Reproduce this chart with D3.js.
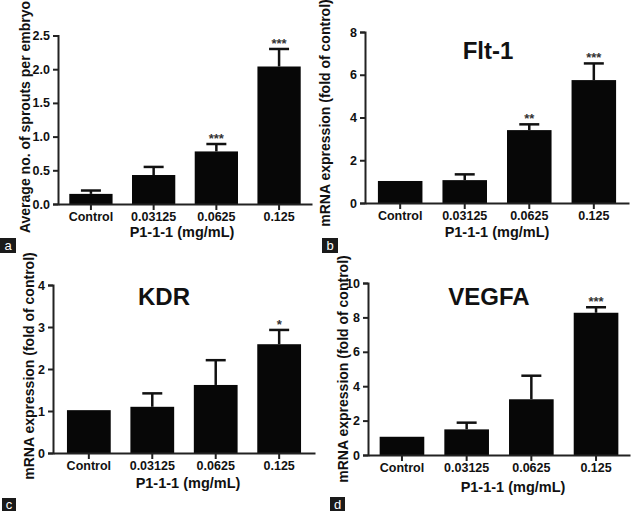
<!DOCTYPE html>
<html>
<head>
<meta charset="utf-8">
<script src="https://cdn.jsdelivr.net/npm/d3@7"></script>
<style>
  html, body { margin: 0; padding: 0; background: #fff; }
  svg { display: block; }
  text { font-family: "Liberation Sans", Arial, Helvetica, sans-serif; font-weight: bold; fill: #111; }
</style>
</head>
<body>
<svg id="chart" width="634" height="511"></svg>
<script>
// ---------------- DATA ----------------
const categories = ["Control", "0.03125", "0.0625", "0.125"];
const xAxisTitle = "P1-1-1 (mg/mL)";

// Panel a: sprouts per embryo
const sproutsMean = [0.15, 0.43, 0.78, 2.04];
const sproutsErr  = [0.05, 0.12, 0.11, 0.26];
const sproutsSig  = ["", "", "***", "***"];
const sproutsTicks = [0.0, 0.5, 1.0, 1.5, 2.0, 2.5];

// Panel b: Flt-1
const flt1Mean = [1.03, 1.07, 3.41, 5.75];
const flt1Err  = [0, 0.27, 0.27, 0.78];
const flt1Sig  = ["", "", "**", "***"];
const flt1Ticks = [0, 2, 4, 6, 8];

// Panel c: KDR
const kdrMean = [1.02, 1.10, 1.62, 2.59];
const kdrErr  = [0, 0.32, 0.59, 0.34];
const kdrSig  = ["", "", "", "*"];
const kdrTicks = [0, 1, 2, 3, 4];

// Panel d: VEGFA
const vegfaMean = [1.06, 1.49, 3.24, 8.27];
const vegfaErr  = [0, 0.39, 1.37, 0.32];
const vegfaSig  = ["", "", "", "***"];
const vegfaTicks = [0, 2, 4, 6, 8, 10];

const yTitleSprouts = "Average no. of sprouts per embryo";
const yTitleMRNA = "mRNA expression (fold of control)";

// ---------------- LAYOUT ----------------
const panels = [
  { label: "a", mean: sproutsMean, err: sproutsErr, sig: sproutsSig, ticks: sproutsTicks, fmt: d3.format(".1f"),
    yTitle: yTitleSprouts, title: null,
    x0: 58, x1: 312, yTop: 35.5, yBot: 204, po: 0.18,
    yTitleX: 26, yTitleY: 117, xTitleX: 182, xTitleY: 237,
    box: [0, 238, 16, 15] },
  { label: "b", mean: flt1Mean, err: flt1Err, sig: flt1Sig, ticks: flt1Ticks, fmt: d3.format("d"),
    yTitle: yTitleMRNA, title: "Flt-1", titleX: 488, titleY: 59,
    x0: 365, x1: 629, yTop: 32, yBot: 203, po: 0.2,
    yTitleX: 326, yTitleY: 113, xTitleX: 497, xTitleY: 237,
    box: [322, 238, 16, 15] },
  { label: "c", mean: kdrMean, err: kdrErr, sig: kdrSig, ticks: kdrTicks, fmt: d3.format("d"),
    yTitle: yTitleMRNA, title: "KDR", titleX: 164, titleY: 305,
    x0: 53, x1: 315, yTop: 285, yBot: 453, po: 0.22,
    yTitleX: 30, yTitleY: 366, xTitleX: 188, xTitleY: 488,
    box: [2, 498, 14, 13] },
  { label: "d", mean: vegfaMean, err: vegfaErr, sig: vegfaSig, ticks: vegfaTicks, fmt: d3.format("d"),
    yTitle: yTitleMRNA, title: "VEGFA", titleX: 489, titleY: 305,
    x0: 368, x1: 630, yTop: 283, yBot: 455, po: 0.18,
    yTitleX: 344, yTitleY: 369, xTitleX: 513, xTitleY: 492,
    box: [330, 497, 15, 14] }
];

const svg = d3.select("#chart");

panels.forEach(p => {
  const g = svg.append("g");
  const x = d3.scaleBand().domain(categories).range([p.x0, p.x1])
    .paddingInner(0.31).paddingOuter(p.po);
  const y = d3.scaleLinear().domain([p.ticks[0], p.ticks[p.ticks.length - 1]]).range([p.yBot, p.yTop]);

  const data = categories.map((c, i) => ({ c, v: p.mean[i], e: p.err[i], s: p.sig[i] }));

  // bars
  g.selectAll("rect.bar").data(data).join("rect")
    .attr("class", "bar")
    .attr("x", d => x(d.c))
    .attr("width", x.bandwidth())
    .attr("y", d => y(d.v))
    .attr("height", d => y(0) - y(d.v))
    .attr("fill", "#070707");

  // error bars (upper only)
  const eb = data.filter(d => d.e > 0);
  g.selectAll("line.err").data(eb).join("line")
    .attr("x1", d => x(d.c) + x.bandwidth() / 2)
    .attr("x2", d => x(d.c) + x.bandwidth() / 2)
    .attr("y1", d => y(d.v))
    .attr("y2", d => y(d.v + d.e))
    .attr("stroke", "#111").attr("stroke-width", 2.5);
  g.selectAll("line.cap").data(eb).join("line")
    .attr("x1", d => x(d.c) + x.bandwidth() / 2 - 10)
    .attr("x2", d => x(d.c) + x.bandwidth() / 2 + 10)
    .attr("y1", d => y(d.v + d.e))
    .attr("y2", d => y(d.v + d.e))
    .attr("stroke", "#111").attr("stroke-width", 2.5);

  // significance stars
  g.selectAll("text.sig").data(data.filter(d => d.s)).join("text")
    .attr("x", d => x(d.c) + x.bandwidth() / 2)
    .attr("y", d => y(d.v + d.e) - 1)
    .attr("text-anchor", "middle")
    .style("font-size", "13px")
    .style("font-weight", "bold")
    .style("fill", "#333")
    .text(d => d.s);

  // y axis
  const ya = g.append("g").attr("transform", `translate(${p.x0},0)`)
    .call(d3.axisLeft(y).tickValues(p.ticks).tickFormat(p.fmt).tickSize(5).tickPadding(3));
  ya.select(".domain").attr("stroke", "#222").attr("stroke-width", 2);
  ya.selectAll(".tick line").attr("stroke", "#222").attr("stroke-width", 2);
  ya.selectAll(".tick text").style("font-size", "12.5px").style("font-family", null).attr("fill", "#111");

  // x axis
  const xa = g.append("g").attr("transform", `translate(0,${p.yBot})`)
    .call(d3.axisBottom(x).tickSize(6).tickPadding(2).tickSizeOuter(0));
  xa.select(".domain").attr("stroke", "#222").attr("stroke-width", 2);
  xa.selectAll(".tick line").attr("stroke", "#222").attr("stroke-width", 2);
  xa.selectAll(".tick text").style("font-size", "12.5px").style("font-family", null).attr("fill", "#111");

  // axis titles
  g.append("text")
    .attr("transform", `translate(${p.yTitleX},${p.yTitleY}) rotate(-90)`)
    .attr("text-anchor", "middle").attr("dominant-baseline", "middle")
    .style("font-size", "14px")
    .text(p.yTitle);
  g.append("text")
    .attr("x", p.xTitleX).attr("y", p.xTitleY)
    .attr("text-anchor", "middle")
    .style("font-size", "14.5px")
    .text(xAxisTitle);

  // panel title
  if (p.title) {
    g.append("text")
      .attr("x", p.titleX).attr("y", p.titleY)
      .attr("text-anchor", "middle")
      .style("font-size", "24px")
      .text(p.title);
  }

  // panel label box
  g.append("rect")
    .attr("x", p.box[0]).attr("y", p.box[1])
    .attr("width", p.box[2]).attr("height", p.box[3])
    .attr("fill", "#1a1a1a");
  g.append("text")
    .attr("x", p.box[0] + p.box[2] / 2).attr("y", p.box[1] + p.box[3] / 2 + 4.5)
    .attr("text-anchor", "middle")
    .style("font-size", "13px").style("fill", "#fff").style("font-weight", "normal")
    .text(p.label);
});
</script>
</body>
</html>
